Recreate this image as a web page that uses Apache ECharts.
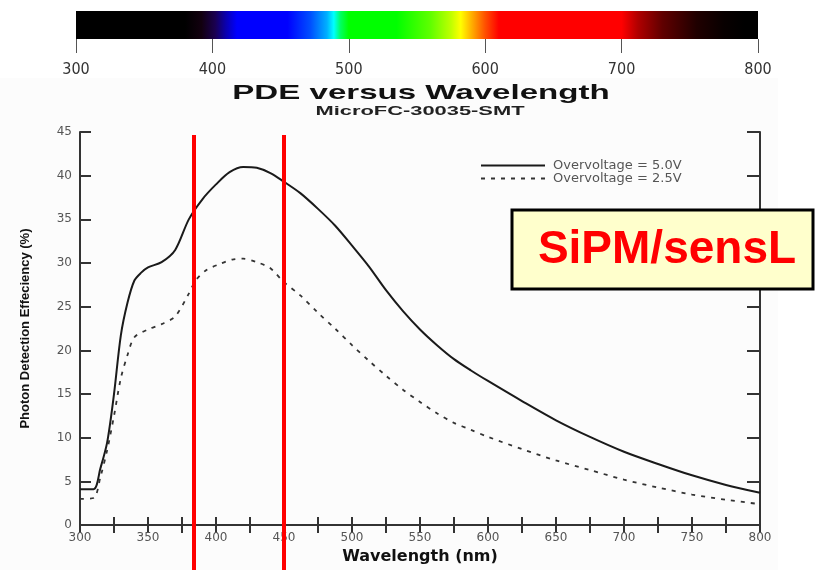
<!DOCTYPE html>
<html>
<head>
<meta charset="utf-8">
<title>PDE versus Wavelength</title>
<script src="https://cdn.jsdelivr.net/npm/echarts@6.0.0/dist/echarts.min.js"></script>
<style>
  html, body { margin: 0; padding: 0; background: #fff; }
  #main { width: 816px; height: 570px; }
</style>
</head>
<body>
<div id="main"></div>
<script>
// wavelength (nm) / PDE (%)
var wl50 = [300, 310, 315, 320, 325, 330, 335, 340, 345, 350, 360, 370, 380, 390, 400, 410, 420, 430, 440, 450, 462, 475, 487.5, 500, 512.5, 525, 537.5, 550, 562.5, 575, 587.5, 600, 625, 650, 675, 700, 725, 750, 775, 800]
var pde50 = [4.1, 4.1, 6.5, 9.5, 15.0, 21.7, 25.5, 28.0, 28.9, 29.5, 30.1, 31.5, 35.0, 37.3, 39.0, 40.4, 41.0, 40.9, 40.3, 39.3, 38.0, 36.2, 34.3, 32.0, 29.6, 26.9, 24.5, 22.4, 20.6, 19.0, 17.7, 16.5, 14.2, 12.0, 10.1, 8.4, 7.0, 5.7, 4.6, 3.7]

var wl25 = [300, 310, 315, 320, 325, 330, 335, 340, 350, 360, 370, 380, 385, 393, 403, 412, 420, 430, 440, 450, 462, 475, 487.5, 500, 512.5, 525, 537.5, 550, 562.5, 575, 587.5, 600, 625, 650, 675, 700, 725, 750, 775, 800]
var pde25 = [3.0, 3.1, 5.5, 8.6, 12.5, 16.8, 19.5, 21.5, 22.4, 23.0, 23.9, 26.5, 28.0, 29.2, 29.9, 30.4, 30.5, 30.1, 29.4, 27.8, 26.3, 24.3, 22.5, 20.6, 18.8, 17.1, 15.5, 14.1, 12.8, 11.7, 10.9, 10.1, 8.7, 7.4, 6.3, 5.2, 4.3, 3.5, 2.9, 2.4]

var seriesNames = ['Overvoltage = 5.0V', 'Overvoltage = 2.5V']
var markedWl = [384, 450]
var yTicks = [0, 45, 5]
var xTicks = [300, 800, 25]

// colour bar, nm -> colour
var spectrum = [
  [300, '#000000'], [380, '#000000'], [392, '#12000f'], [402, '#1a0050'], [410, '#0a00b0'],
  [418, '#0000ff'], [455, '#0000ff'], [472, '#0050ff'], [484, '#00b0ff'], [489, '#00ffff'],
  [494, '#00ff60'], [500, '#00ff00'], [535, '#00ff00'], [560, '#60ff00'], [575, '#c0ff00'],
  [582, '#ffff00'], [590, '#ffb000'], [600, '#ff5000'], [610, '#ff0000'], [700, '#ff0000'],
  [712, '#b00000'], [730, '#600000'], [755, '#200000'], [775, '#080000'], [790, '#000000'],
  [800, '#000000']
]

function zip(a, b) {
  return a.map(function (v, i) { return [v, b[i]] })
}

var chart = echarts.init(document.getElementById('main'), null, { renderer: 'canvas' })

var frame = '#333'
var sans = '"DejaVu Sans", sans-serif'

var option = {
  backgroundColor: '#fff',
  animation: false,
  legend: {
    data: seriesNames,
    orient: 'vertical',
    left: 475,
    top: 154,
    itemWidth: 64,
    itemHeight: 8,
    itemGap: 0,
    itemStyle: { opacity: 0 },
    textStyle: { color: '#555', fontSize: 13, fontFamily: sans, lineHeight: 13, padding: [0, 0, 0, 3] }
  },
  grid: [
    { left: 76, right: 58, top: 11, height: 28 },
    { left: 80, right: 56, top: 132, bottom: 37 },
    { left: 80, right: 56, top: 135, bottom: 0 }
  ],
  xAxis: [
    {
      gridIndex: 0, type: 'value', min: 300, max: 800, interval: 100,
      axisLine: { show: false },
      axisTick: { show: true, inside: false, length: 14, lineStyle: { color: '#555', width: 1 } },
      axisLabel: { margin: 23, color: '#333', fontSize: 16, fontFamily: '"DejaVu Sans Condensed", "DejaVu Sans", sans-serif' },
      splitLine: { show: false }
    },
    {
      gridIndex: 1, type: 'value', min: xTicks[0], max: xTicks[1], interval: xTicks[2],
      name: 'Wavelength (nm)', nameLocation: 'middle', nameGap: 19,
      nameTextStyle: { color: '#111', fontSize: 16, fontWeight: 'bold', fontFamily: sans },
      axisLine: { lineStyle: { color: frame, width: 2 } },
      axisTick: { inside: true, length: 8, lineStyle: { color: frame, width: 2 } },
      axisLabel: {
        margin: 7, color: '#555', fontSize: 12, fontFamily: sans,
        formatter: function (v) { return v % 50 === 0 ? v : '' }
      },
      splitLine: { show: false }
    },
    {
      gridIndex: 1, type: 'value', position: 'top', min: xTicks[0], max: xTicks[1], interval: xTicks[2],
      axisLine: { lineStyle: { color: frame, width: 2 } },
      axisTick: { inside: true, length: 8, lineStyle: { color: frame, width: 2 } },
      axisLabel: { show: false },
      splitLine: { show: false }
    },
    { gridIndex: 2, type: 'value', min: 300, max: 800, show: false }
  ],
  yAxis: [
    { gridIndex: 0, type: 'value', min: 0, max: 1, show: false },
    {
      gridIndex: 1, type: 'value', min: yTicks[0], max: yTicks[1], interval: yTicks[2],
      name: 'Photon Detection Effeciency (%)', nameLocation: 'middle', nameGap: 48,
      nameTextStyle: { color: '#111', fontSize: 13, fontWeight: 'bold', fontFamily: '"Liberation Sans", Arial, sans-serif' },
      axisLine: { lineStyle: { color: frame, width: 2 } },
      axisTick: { inside: true, length: 11, lineStyle: { color: frame, width: 2 } },
      axisLabel: { margin: 8, color: '#555', fontSize: 12, fontFamily: sans },
      splitLine: { show: false }
    },
    {
      gridIndex: 1, type: 'value', position: 'right', min: yTicks[0], max: yTicks[1], interval: yTicks[2],
      axisLine: { lineStyle: { color: frame, width: 2 } },
      axisTick: { inside: true, length: 13, lineStyle: { color: frame, width: 2 } },
      axisLabel: { show: false },
      splitLine: { show: false }
    },
    { gridIndex: 2, type: 'value', min: 0, max: 1, show: false }
  ],
  series: [
    {
      // colour bar
      type: 'line', xAxisIndex: 0, yAxisIndex: 0, data: [[300, -1]], showSymbol: false, silent: true,
      lineStyle: { opacity: 0 },
      markArea: {
        silent: true,
        itemStyle: {
          opacity: 1,
          color: new echarts.graphic.LinearGradient(0, 0, 1, 0, spectrum.map(function (s) {
            return { offset: (s[0] - 300) / 500, color: s[1] }
          }))
        },
        data: [[{ xAxis: 300, yAxis: 0 }, { xAxis: 800, yAxis: 1 }]]
      }
    },
    {
      name: seriesNames[0], type: 'line', xAxisIndex: 1, yAxisIndex: 1,
      data: zip(wl50, pde50), smooth: 0.3, symbol: 'none',
      lineStyle: { color: '#1a1a1a', width: 2 },
      itemStyle: { color: '#1a1a1a' }
    },
    {
      name: seriesNames[1], type: 'line', xAxisIndex: 1, yAxisIndex: 1,
      data: zip(wl25, pde25), smooth: 0.3, symbol: 'none',
      lineStyle: { color: '#333', width: 1.8, type: [4, 6] },
      itemStyle: { color: '#333' }
    },
    {
      type: 'line', xAxisIndex: 3, yAxisIndex: 3, data: [[300, -1]], showSymbol: false, silent: true, z: 5,
      lineStyle: { opacity: 0 },
      markLine: {
        silent: true, symbol: ['none', 'none'], label: { show: false },
        lineStyle: { color: '#ff0000', width: 4, type: 'solid' },
        data: markedWl.map(function (w) { return { xAxis: w } })
      }
    }
  ],
  graphic: [
    {
      type: 'rect', z: -10, silent: true,
      shape: { x: 0, y: 78, width: 778, height: 492 },
      style: { fill: '#fcfcfc' }
    },
    {
      type: 'text', x: 421, y: 93, scaleX: 1.575,
      style: { text: 'PDE versus Wavelength', font: 'bold 21px "Liberation Sans", Arial, sans-serif', fill: '#111', align: 'center', verticalAlign: 'middle' }
    },
    {
      type: 'text', x: 420, y: 112, scaleX: 1.75,
      style: { text: 'MicroFC-30035-SMT', font: 'bold 12.5px "Liberation Sans", Arial, sans-serif', fill: '#222', align: 'center', verticalAlign: 'middle' }
    },
    {
      type: 'rect', z: 100,
      shape: { x: 512, y: 210, width: 301, height: 79 },
      style: { fill: '#ffffcc', stroke: '#000', lineWidth: 3 }
    },
    {
      type: 'text', z: 101, x: 667, y: 250,
      style: { text: 'SiPM/sensL', font: 'bold 46px "Liberation Sans", Arial, sans-serif', fill: '#ff0000', align: 'center', verticalAlign: 'middle' }
    }
  ]
}

chart.setOption(option)
</script>
</body>
</html>
